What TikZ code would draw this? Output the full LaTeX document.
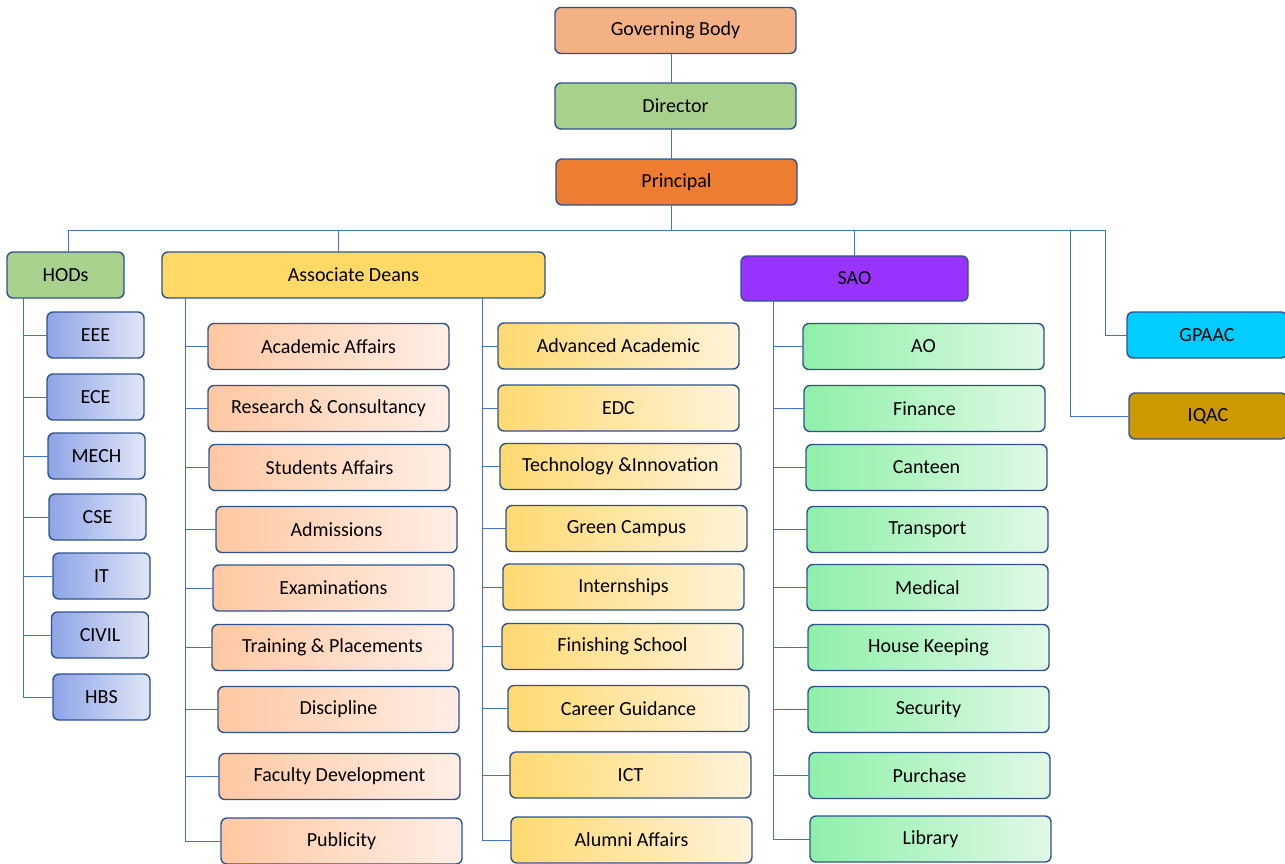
\documentclass[tikz,border=0pt]{standalone}
\usepackage{fontspec}
\setmainfont{Carlito}
\begin{document}
\begin{tikzpicture}[x=1pt,y=-1pt,
  every node/.style={font=\fontsize{20}{24}\selectfont, text=black},
  box/.style={draw=bordc, line width=1.4pt, rounded corners=6pt, minimum width=241pt, minimum height=46pt, inner sep=0pt, outer sep=0pt},
  hodbox/.style={box, minimum width=97pt, left color=blueL, right color=blueR},
  peach/.style={box, left color=peachL, right color=peachR},
  yell/.style={box, left color=yelL, right color=yelR},
  grn/.style={box, left color=grnL, right color=grnR},
  conn/.style={draw=linec, line width=1pt}
]
\definecolor{bordc}{HTML}{2F528F}
\definecolor{linec}{HTML}{4472C4}
\definecolor{cGB}{HTML}{F4B183}
\definecolor{cDir}{HTML}{A9D18E}
\definecolor{cPr}{HTML}{ED7D31}
\definecolor{cDean}{HTML}{FFD966}
\definecolor{cSAO}{HTML}{9933FF}
\definecolor{cGP}{HTML}{00CCFF}
\definecolor{cIQ}{HTML}{CC9900}
\definecolor{blueL}{HTML}{8EA4E6}
\definecolor{blueR}{HTML}{E1E6F7}
\definecolor{peachL}{HTML}{FFC8A2}
\definecolor{peachR}{HTML}{FFEEE6}
\definecolor{yelL}{HTML}{FFD970}
\definecolor{yelR}{HTML}{FFF3D9}
\definecolor{grnL}{HTML}{8EF0A8}
\definecolor{grnR}{HTML}{E0F9E6}
\useasboundingbox (0,0) rectangle (1285,863);
\fill[white] (0,0) rectangle (1285,863);

% top chain
\node[box, fill=cGB] (gb) at (675.5,30.5) {Governing Body};
\node[box, fill=cDir] (dir) at (675.5,106) {Director};
\node[box, fill=cPr] (pr) at (676.5,182) {Principal};

% level 2
\node[box, fill=cDir, minimum width=117pt] (hods) at (65.5,275) {HODs};
\node[box, fill=cDean, minimum width=383pt] (deans) at (353.5,275) {Associate Deans};
\node[box, fill=cSAO, minimum width=227pt, minimum height=45pt] (sao) at (854.5,278.5) {SAO};
\node[box, fill=cGP, minimum width=160pt] (gpaac) at (1207,335) {GPAAC};
\node[box, fill=cIQ, minimum width=158pt] (iqac) at (1208,416) {IQAC};

% HOD children
\node[hodbox] (eee) at (95.5,335) {EEE};
\node[hodbox] (ece) at (95.5,397) {ECE};
\node[hodbox] (mech) at (96.5,456) {MECH};
\node[hodbox] (cse) at (97.5,517) {CSE};
\node[hodbox] (it) at (101.5,576) {IT};
\node[hodbox] (civil) at (100,635) {CIVIL};
\node[hodbox] (hbs) at (101.5,697) {HBS};

% Associate Deans left column
\node[peach] (aa) at (328.5,346.5) {Academic Affairs};
\node[peach] (rc) at (328.5,408.5) {Research \& Consultancy};
\node[peach] (sa) at (329.5,467.5) {Students Affairs};
\node[peach] (adm) at (336.5,529.5) {Admissions};
\node[peach] (exam) at (333.5,588) {Examinations};
\node[peach] (tp) at (332.5,647.5) {Training \& Placements};
\node[peach] (disc) at (338.5,709.5) {Discipline};
\node[peach] (fd) at (339.5,776.5) {Faculty Development};
\node[peach] (pub) at (341.5,841) {Publicity};

% Associate Deans right column
\node[yell] (adv) at (618.5,346) {Advanced Academic};
\node[yell] (edc) at (618.5,408) {EDC};
\node[yell] (ti) at (620.5,466.5) {Technology \&Innovation};
\node[yell] (gc) at (626.5,528.5) {Green Campus};
\node[yell] (intern) at (623.5,587) {Internships};
\node[yell] (fs) at (622.5,646.5) {Finishing School};
\node[yell] (cg) at (628.5,708.5) {Career Guidance};
\node[yell] (ict) at (630.5,775) {ICT};
\node[yell] (alum) at (631.5,840) {Alumni Affairs};

% SAO column
\node[grn] (ao) at (923.5,346.5) {AO};
\node[grn] (fin) at (924.5,408.5) {Finance};
\node[grn] (cant) at (926.5,467.5) {Canteen};
\node[grn] (trans) at (927.5,529.5) {Transport};
\node[grn] (med) at (927.5,587.5) {Medical};
\node[grn] (hk) at (928.5,647.5) {House Keeping};
\node[grn] (sec) at (928.5,709.5) {Security};
\node[grn] (pur) at (929.5,775.5) {Purchase};
\node[grn] (lib) at (930.5,839) {Library};

% coordinates for buses and trunks
\coordinate (busL) at (68,230);
\coordinate (busR) at (1105,230);
\coordinate (busD) at (338,230);
\coordinate (busI) at (1070,230);
\coordinate (tC) at (671,0);
\coordinate (tH) at (23,0);
\coordinate (tA) at (185,0);
\coordinate (tB) at (482,0);
\coordinate (tS) at (773,0);

% top connectors
\draw[conn] (gb.south -| tC) -- (dir.north -| tC);
\draw[conn] (dir.south -| tC) -- (pr.north -| tC);
\draw[conn] (pr.south -| tC) -- (busL -| tC);
\draw[conn] (busL) -- (busR);
\draw[conn] (busL) -- (hods.north -| busL);
\draw[conn] (busD) -- (deans.north -| busD);
\draw[conn] (sao.north |- busL) -- (sao.north);
\draw[conn] (busR) |- (gpaac.west);
\draw[conn] (busI) |- (iqac.west);

% HOD trunk
\draw[conn] (hods.south -| tH) -- (hbs.west -| tH);
\foreach \n in {eee,ece,mech,cse,it,civil,hbs}
  \draw[conn] (\n.west -| tH) -- (\n.west);

% Deans left trunk
\draw[conn] (deans.south -| tA) -- (pub.west -| tA);
\foreach \n in {aa,rc,sa,adm,exam,tp,disc,fd,pub}
  \draw[conn] (\n.west -| tA) -- (\n.west);

% Deans right trunk
\draw[conn] (deans.south -| tB) -- (alum.west -| tB);
\foreach \n in {adv,edc,ti,gc,intern,fs,cg,ict,alum}
  \draw[conn] (\n.west -| tB) -- (\n.west);

% SAO trunk
\draw[conn] (sao.south -| tS) -- (lib.west -| tS);
\foreach \n in {ao,fin,cant,trans,med,hk,sec,pur,lib}
  \draw[conn] (\n.west -| tS) -- (\n.west);
\end{tikzpicture}
\end{document}
